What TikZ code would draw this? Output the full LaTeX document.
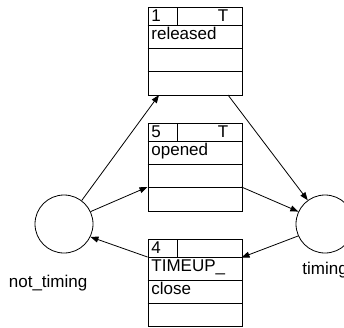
\documentclass[tikz,border=0pt]{standalone}
\usepackage{fontspec}
\setmainfont{Liberation Sans}
\usetikzlibrary{arrows.meta}
\begin{document}
\begin{tikzpicture}[x=1pt,y=-1pt,
  line width=0.8pt,
  box/.style={draw, rectangle, minimum width=94pt, inner sep=0pt, anchor=north west},
  state/.style={draw, circle, minimum size=58pt, inner sep=0pt},
  lbl/.style={inner sep=0pt, anchor=base west, font=\fontsize{17}{20}\selectfont},
  arr/.style={-{Triangle[length=8pt,width=6pt]}}
]
\useasboundingbox (0,0) rectangle (344,327);
% boxes
\node[box, minimum height=88pt] (b1) at (147.5,7) {};
\node[box, minimum height=88pt] (b2) at (147.5,123) {};
\node[box, minimum height=87pt] (b3) at (147.5,239) {};
% rows box 1
\draw (147.5,25) -- (241.5,25);
\draw (147.5,48) -- (241.5,48);
\draw (147.5,71) -- (241.5,71);
\draw (177,7) -- (177,25);
% rows box 2
\draw (147.5,141) -- (241.5,141);
\draw (147.5,164) -- (241.5,164);
\draw (147.5,187) -- (241.5,187);
\draw (177,123) -- (177,141);
% rows box 3
\draw (147.5,257) -- (241.5,257);
\draw (147.5,280) -- (241.5,280);
\draw (147.5,303) -- (241.5,303);
\draw (177,239) -- (177,257);
% texts
\node[lbl] (t11) at (151,21.5) {1};
\node[lbl, anchor=base] (t12) at (223,21.5) {T};
\node[lbl] (t13) at (151,39.5) {released};
\node[lbl] (t21) at (151,137.5) {5};
\node[lbl, anchor=base] (t22) at (223,137.5) {T};
\node[lbl] (t23) at (151,155.5) {opened};
\node[lbl] (t31) at (151,253.5) {4};
\node[lbl] (t33) at (151,271.5) {TIMEUP\_};
\node[lbl] (t34) at (151,294.5) {close};
% states
\node[state] (nt) at (64,224) {};
\node[state] (tm) at (325,224) {};
\node[lbl] (ntl) at (8.5,287.5) {not\_timing};
\node[lbl] (tml) at (302,274) {timing};
% connector end points
\coordinate (b1in) at (159,95);
\coordinate (b1out) at (228,95);
\coordinate (b2in) at (147.5,187);
\coordinate (b2out) at (241.5,187);
\coordinate (b3in) at (241.5,257.5);
\coordinate (b3out) at (147.5,257);
% connectors
\draw[arr] (nt.53.6) -- (b1in);
\draw[arr] (nt.25) -- (b2in);
\draw[arr] (b1out) -- (tm.126.5);
\draw[arr] (b2out) -- (tm.155.7);
\draw[arr] (tm.204) -- (b3in);
\draw[arr] (b3out) -- (nt.-26);
\end{tikzpicture}
\end{document}
